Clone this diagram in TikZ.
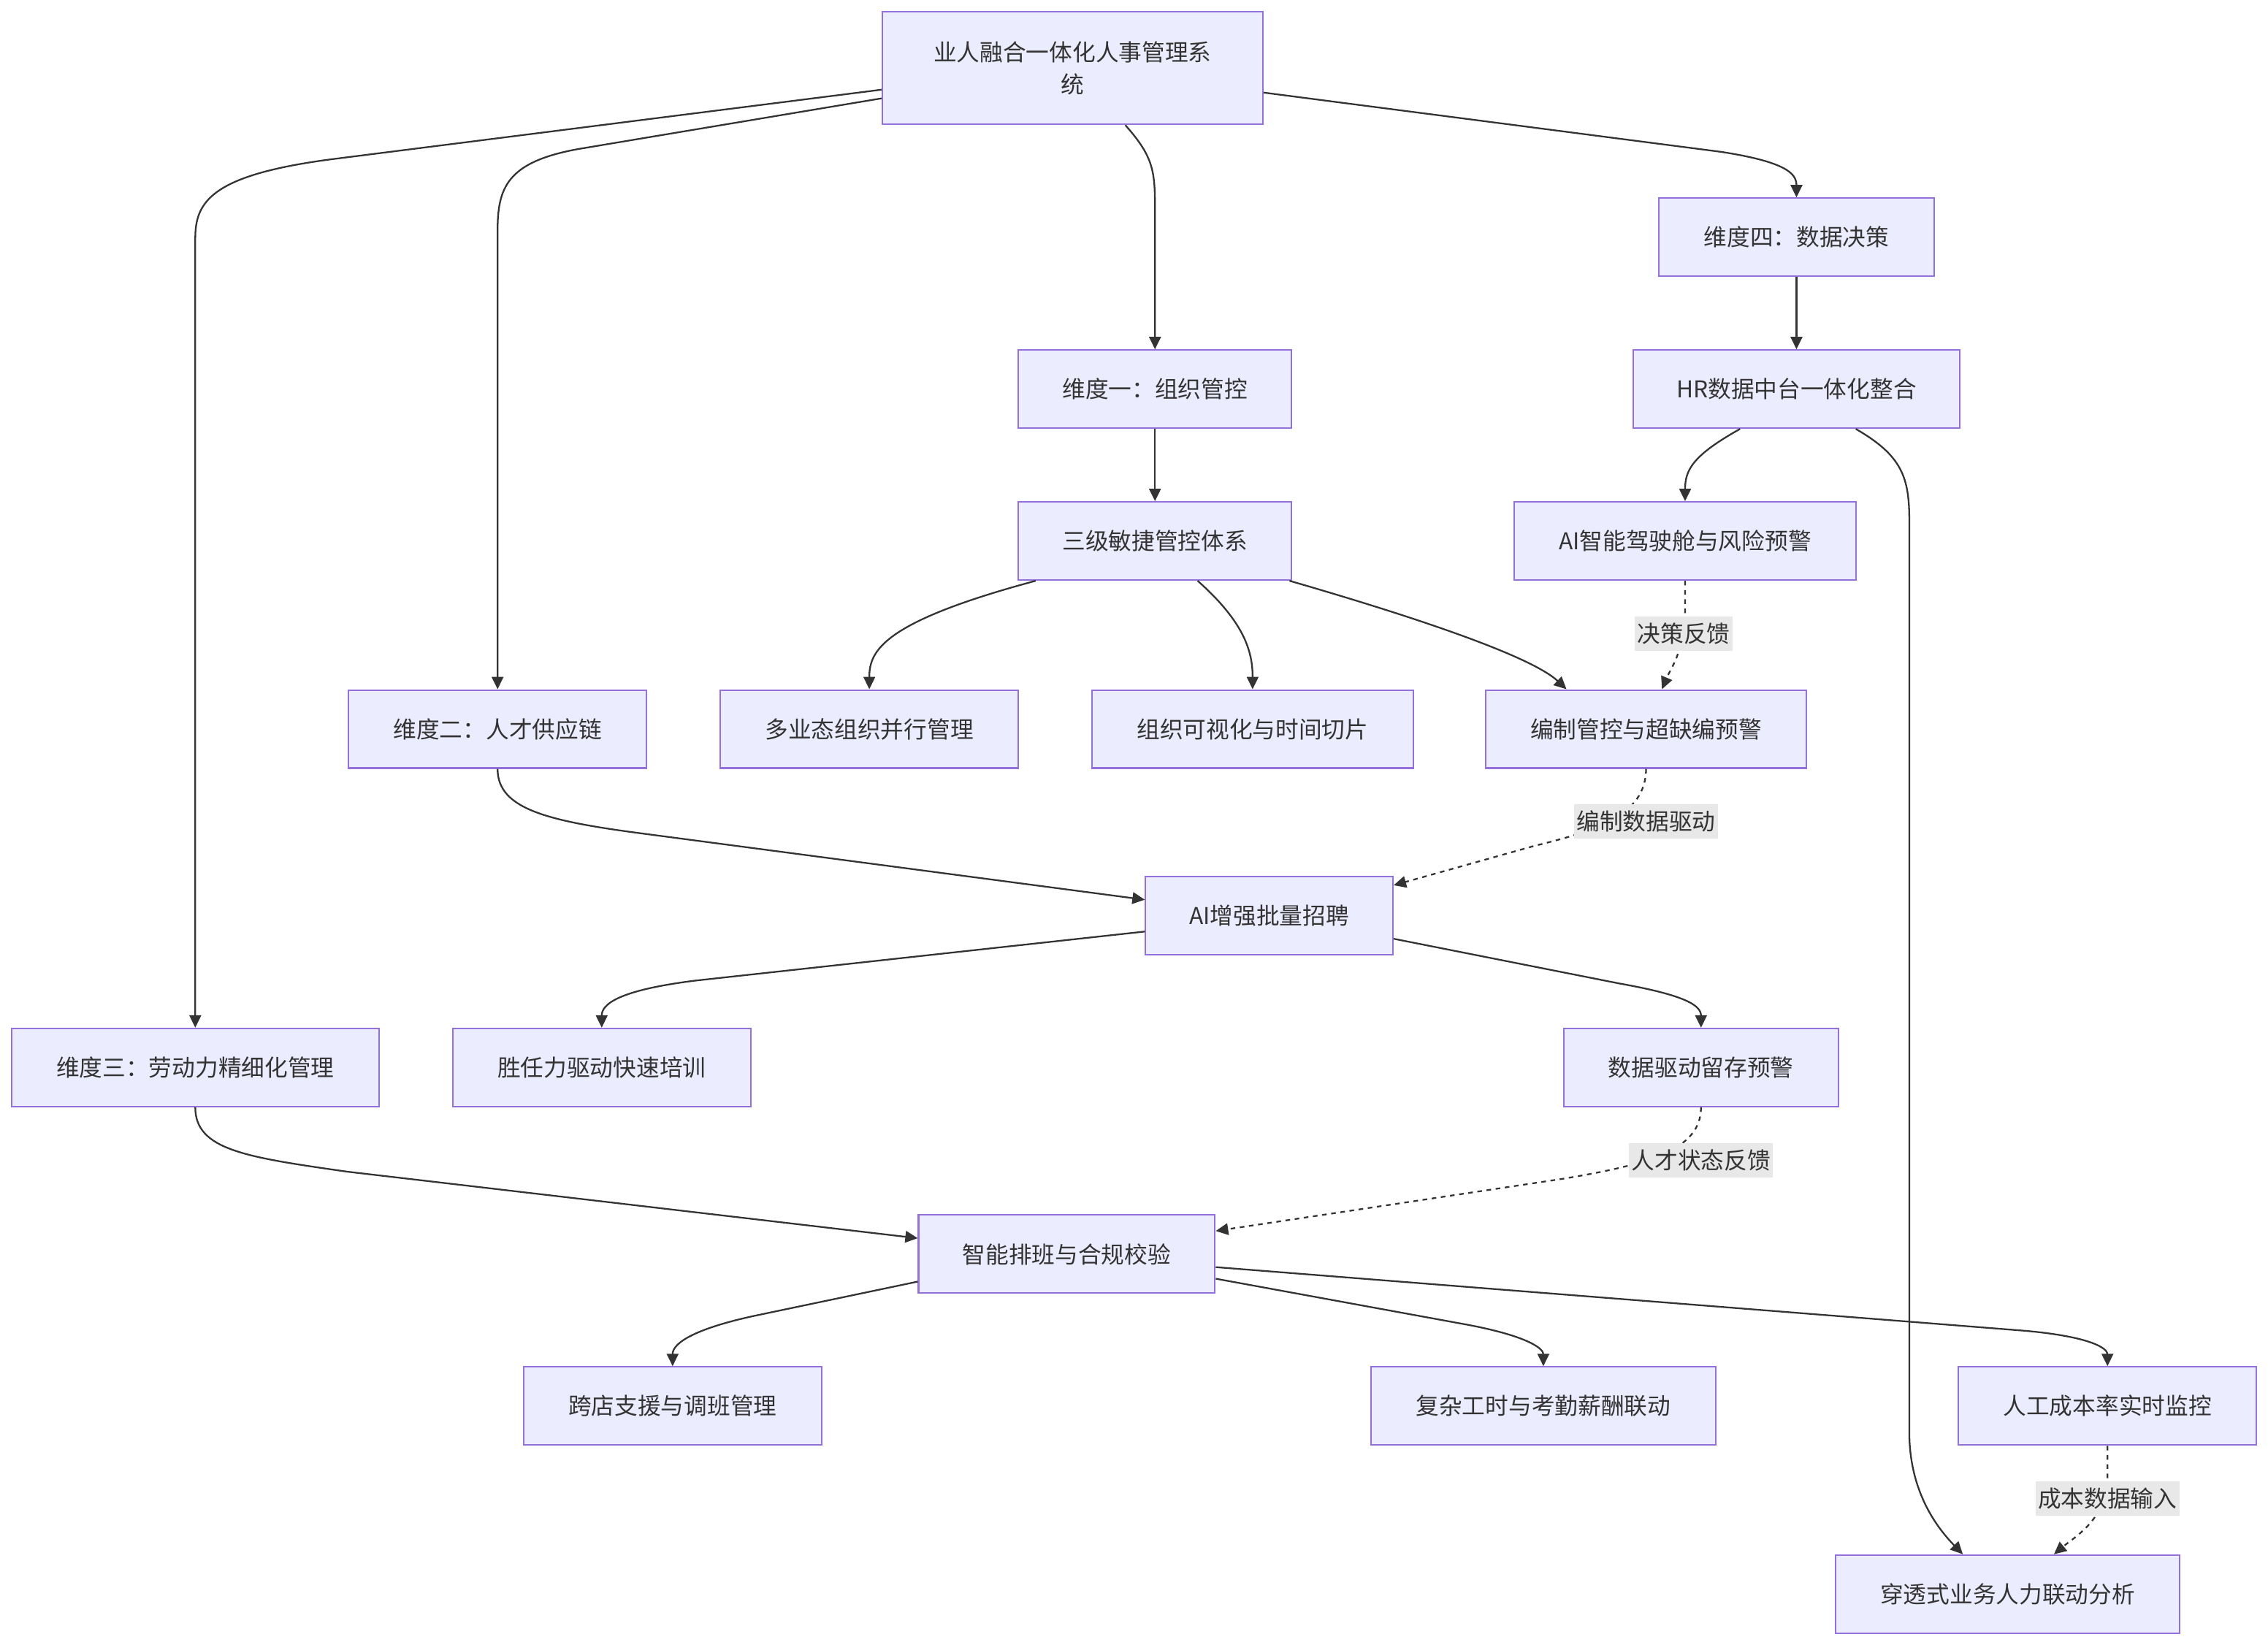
\documentclass[tikz,border=0pt]{standalone}
\usepackage{fontspec}
\setmainfont{Noto Sans CJK SC}
\usetikzlibrary{arrows.meta}
\definecolor{boxfill}{HTML}{ECECFF}
\definecolor{boxline}{HTML}{9370DB}
\definecolor{ink}{HTML}{333333}
\definecolor{lblbg}{HTML}{E8E8E8}
\newdimen\myu \myu=0.019802cm
\tikzset{
  box/.style={draw=boxline, fill=boxfill, line width=0.6pt, minimum height=54*\myu, inner sep=0pt, align=center, text=ink},
  arr/.style={draw=ink, line width=0.65pt, -{Triangle[length=0.17cm,width=0.16cm]}},
  dotarr/.style={arr, dash pattern=on 1.8pt off 1.8pt},
  lbl/.style={fill=lblbg, inner xsep=1pt, inner ysep=2.5pt, text=ink}
}
\begin{document}
\begin{tikzpicture}[x=0.019802cm, y=-0.019802cm, font=\fontsize{9.02pt}{12.4pt}\selectfont]
\useasboundingbox (0,0) rectangle (1568,1137);
% nodes
\node[box, minimum width=263*\myu, minimum height=78*\myu] (top) at (741.5,47) {业人融合一体化人事管理系\\统};
\node[box, minimum width=190*\myu] (d4) at (1242,164) {维度四：数据决策};
\node[box, minimum width=189*\myu] (d1) at (798.5,269) {维度一：组织管控};
\node[box, minimum width=226*\myu] (hr) at (1242,269) {HR数据中台一体化整合};
\node[box, minimum width=189*\myu] (sj) at (798.5,374) {三级敏捷管控体系};
\node[box, minimum width=236*\myu] (ai1) at (1165,374) {AI智能驾驶舱与风险预警};
\node[box, minimum width=206*\myu] (d2) at (344,504) {维度二：人才供应链};
\node[box, minimum width=206*\myu] (dy) at (601,504) {多业态组织并行管理};
\node[box, minimum width=222*\myu] (zz) at (866,504) {组织可视化与时间切片};
\node[box, minimum width=222*\myu] (bz) at (1138,504) {编制管控与超缺编预警};
\node[box, minimum width=171*\myu] (aiz) at (877.5,633) {AI增强批量招聘};
\node[box, minimum width=254*\myu] (d3) at (135,738) {维度三：劳动力精细化管理};
\node[box, minimum width=206*\myu] (sr) at (416,738) {胜任力驱动快速培训};
\node[box, minimum width=190*\myu] (lc) at (1176,738) {数据驱动留存预警};
\node[box, minimum width=205*\myu] (pb) at (737.5,867) {智能排班与合规校验};
\node[box, minimum width=206*\myu] (kd) at (465,972) {跨店支援与调班管理};
\node[box, minimum width=238*\myu] (fz) at (1067,972) {复杂工时与考勤薪酬联动};
\node[box, minimum width=206*\myu] (rg) at (1457,972) {人工成本率实时监控};
\node[box, minimum width=238*\myu] (ct) at (1388,1102) {穿透式业务人力联动分析};
% edges
\draw[arr] ([yshift=-15*\myu]top.west) -- (230,110) .. controls (145,121) and (135,140) .. (135,165) -- (d3.north);
\draw[arr] ([yshift=-21*\myu]top.west) -- (400,103) .. controls (350,112) and (344,130) .. (344,160) -- (d2.north);
\draw[arr] ([xshift=36.5*\myu]top.south) .. controls (799,110) and (798.5,120) .. (798.5,150) -- (d1.north);
\draw[arr] ([yshift=-17*\myu]top.east) -- (1190,105) .. controls (1235,112) and (1242,120) .. (d4.north);
\draw[arr] (d4) -- (hr);
\draw[arr] (d1) -- (sj);
\draw[arr] ([xshift=-39*\myu]hr.south) .. controls (1170,315) and (1165,325) .. ([xshift=0*\myu]ai1.north);
\draw[arr] ([xshift=41*\myu]hr.south) .. controls (1315,315) and (1320,330) .. (1320,360) -- (1320,990) .. controls (1320,1030) and (1338,1055) .. ([xshift=-31*\myu]ct.north);
\draw[arr] ([xshift=-82.5*\myu]sj.south) .. controls (610,430) and (601,450) .. (dy.north);
\draw[arr] ([xshift=29.5*\myu]sj.south) .. controls (860,430) and (866,450) .. (zz.north);
\draw[arr] ([xshift=-2*\myu]sj.south east) .. controls (990,430) and (1060,455) .. ([xshift=-55*\myu]bz.north);
\draw[dotarr] (ai1.south) -- (1165,420) .. controls (1165,450) and (1155,462) .. ([xshift=11*\myu]bz.north);
\draw[dotarr] (bz.south) .. controls (1138,565) and (1100,575) .. (1060,585) -- ([yshift=21*\myu]aiz.east);
\draw[arr] (d2.south) .. controls (344,560) and (380,568) .. (450,577) -- ([yshift=11*\myu]aiz.west);
\draw[arr] ([yshift=-11*\myu]aiz.west) -- (480,678) .. controls (425,685) and (416,695) .. (sr.north);
\draw[arr] ([yshift=-16*\myu]aiz.east) -- (1120,680) .. controls (1165,688) and (1176,695) .. (lc.north);
\draw[arr] (d3.south) .. controls (135,795) and (170,800) .. (240,810) -- ([yshift=11*\myu]pb.west);
\draw[dotarr] (lc.south) .. controls (1176,795) and (1140,805) .. (1080,815) -- ([yshift=16*\myu]pb.east);
\draw[arr] ([yshift=-19*\myu]pb.west) -- (520,910) .. controls (475,920) and (465,930) .. (kd.north);
\draw[arr] ([yshift=-17*\myu]pb.east) -- (1010,915) .. controls (1055,923) and (1067,932) .. (fz.north);
\draw[arr] ([yshift=-9*\myu]pb.east) -- (1400,920) .. controls (1445,924) and (1457,932) .. (rg.north);
\draw[dotarr] (rg.south) -- (1457,1020) .. controls (1457,1050) and (1435,1062) .. ([xshift=32*\myu]ct.north);
% edge labels
\node[lbl] (l1) at (1164,438) {决策反馈};
\node[lbl] (l2) at (1138,568) {编制数据驱动};
\node[lbl] (l3) at (1176,802) {人才状态反馈};
\node[lbl] (l4) at (1457,1036) {成本数据输入};
\end{tikzpicture}
\end{document}
